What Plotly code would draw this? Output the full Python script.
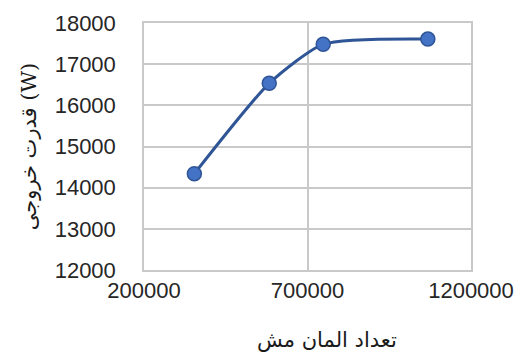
import plotly.graph_objects as go

# Mesh-independence study: output power vs. number of mesh elements
mesh_elements = [354000, 583000, 748000, 1068000]
output_power_w = [14340, 16535, 17482, 17610]

x_ticks = [200000, 700000, 1200000]
y_ticks = [12000, 13000, 14000, 15000, 16000, 17000, 18000]

x_title = "تعداد المان مش"
y_title = "قدرت خروجی (W)"

grid_color = "#c9c9c9"
tick_font = dict(family="Liberation Sans, Arial, sans-serif", size=22, color="#262626")
fa_font = dict(family="DejaVu Serif, Liberation Serif, DejaVu Sans, serif", size=21, color="#1a1a1a")

fig = go.Figure()
fig.add_trace(go.Scatter(
    x=mesh_elements,
    y=output_power_w,
    mode="lines+markers",
    line=dict(color="#2F5597", width=3, shape="spline", smoothing=0.6),
    marker=dict(size=14, color="#4472C4", line=dict(color="#2F5597", width=1.5)),
    showlegend=False,
))

fig.update_layout(
    width=515,
    height=357,
    margin=dict(l=144, r=44, t=23, b=87),
    paper_bgcolor="white",
    plot_bgcolor="white",
    xaxis=dict(
        range=[200000, 1200000],
        tickvals=x_ticks,
        ticktext=[str(v) for v in x_ticks],
        showgrid=True,
        gridcolor=grid_color,
        gridwidth=1.5,
        showline=True,
        linecolor=grid_color,
        linewidth=1.5,
        mirror=True,
        zeroline=False,
        ticks="",
        ticklabelstandoff=0,
        tickfont=tick_font,
        automargin=False,
    ),
    yaxis=dict(
        range=[12000, 18000],
        tickvals=y_ticks,
        ticktext=[str(v) for v in y_ticks],
        showgrid=True,
        gridcolor=grid_color,
        gridwidth=1.5,
        showline=True,
        linecolor=grid_color,
        linewidth=1.5,
        mirror=True,
        zeroline=False,
        ticks="",
        ticklabelstandoff=22,
        tickfont=tick_font,
        automargin=False,
        title=dict(text=y_title, font=fa_font, standoff=12),
    ),
    annotations=[dict(
        text=x_title,
        xref="paper", yref="paper",
        x=0.56, y=-0.283,
        xanchor="center", yanchor="middle",
        showarrow=False,
        font=fa_font,
    )],
)

fig.write_html("out.html")
